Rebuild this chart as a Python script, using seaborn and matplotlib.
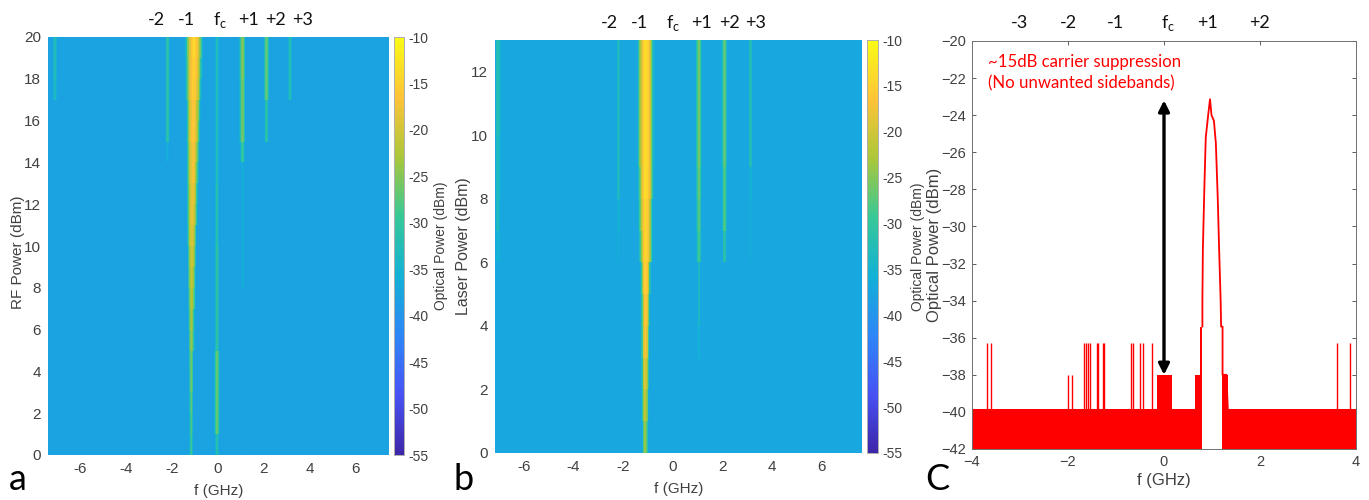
import matplotlib.pyplot as plt
import numpy as np
import pandas as pd
import seaborn as sns
from matplotlib.colors import LinearSegmentedColormap

W, H = 1369, 500

# panel a, rows are RF power 0-1 ... 19-20 dBm
a_rows = list(range(20))
a_freq_start, a_freq_stop = -7.39, 7.43
a_bg = -37.8
a_main_center = [-1.17, -1.17, -1.17, -1.17, -1.17, -1.16, -1.16, -1.15, -1.15, -1.14,
                 -1.14, -1.13, -1.12, -1.11, -1.10, -1.09, -1.08, -1.07, -1.06, -1.05]
a_main_peak = [-29, -28, -27, -26, -26, -24, -23, -22, -21, -20,
               -19, -18, -18, -17, -17, -16, -16, -15, -15, -14.5]
a_main_spread = [0.40, 0.42, 0.44, 0.46, 0.48, 0.55, 0.60, 0.65, 0.70, 0.75,
                 0.80, 0.85, 0.90, 0.95, 1.00, 1.05, 1.10, 1.20, 1.25, 1.30]
a_line_freq = [-0.06, 1.045, 2.09, 3.13, -2.19, -7.09]
a_line_peak = [
    [-32, -27, -27, -27, -27, -31, -31, -31, -31, -31, -32, -32, -32, -33, -33, -33, -33, -33, -33, -33],
    [-37, -37, -37, -37, -37, -37, -37, -37, -36, -36, -36, -36, -36, -36, -30, -26, -26, -26, -25, -25],
    [-38, -38, -38, -38, -38, -38, -38, -38, -38, -38, -38, -38, -38, -38, -38, -31, -31, -27, -27, -27],
    [-38, -38, -38, -38, -38, -38, -38, -38, -38, -38, -38, -38, -38, -38, -38, -38, -38, -32, -32, -32],
    [-38, -38, -38, -38, -38, -38, -38, -38, -38, -38, -38, -38, -38, -38, -36, -31, -31, -31, -31, -31],
    [-38, -38, -38, -38, -38, -38, -38, -38, -38, -38, -38, -38, -38, -38, -38, -38, -38, -33, -32, -32],
]

# panel b, rows are laser power 0-1 ... 12-13 dBm
b_rows = list(range(13))
b_freq_start, b_freq_stop = -7.16, 7.64
b_bg = -37.2
b_main_center = [-1.12, -1.12, -1.11, -1.11, -1.10, -1.10, -1.09, -1.09, -1.09, -1.09, -1.09, -1.09, -1.09]
b_main_peak = [-24, -21, -19, -17, -16, -15, -14.5, -14.5, -13.5, -13.5, -13.5, -13.5, -13.5]
b_main_spread = [0.55, 0.58, 0.60, 0.62, 0.65, 0.70, 0.95, 1.00, 1.05, 1.10, 1.10, 1.10, 1.10]
b_line_freq = [1.05, 2.09, 3.14, -2.2, -7.08, -7.0]
b_line_peak = [
    [-38, -38, -38, -36, -34, -34, -29, -28, -27, -26, -26, -26, -26],
    [-38, -38, -38, -38, -38, -38, -31, -28, -28, -27, -27, -27, -27],
    [-38, -38, -38, -38, -38, -38, -36, -36, -35, -32, -32, -32, -32],
    [-38, -38, -38, -38, -38, -38, -36, -35, -33, -33, -33, -33, -33],
    [-38, -38, -38, -38, -38, -38, -35, -33, -33, -33, -32, -32, -32],
    [-38, -38, -38, -38, -38, -38, -36, -36, -35, -35, -34, -34, -34],
]

# falloff below the stripe peak, dB per 0.025 GHz cell away from the centre
main_falloff = [0, 0.5, 1, 2, 3, 5, 7, 9.5, 12, 15, 18, 20.5, 23, 25, 27]
line_falloff = [0, 1, 3, 6, 9, 12, 15, 18]

cbar_ticks = [-10, -15, -20, -25, -30, -35, -40, -45, -50, -55]

# panel c
c_floor_freq = [-4, -0.14, -0.14, 0.16, 0.16, 0.65, 0.65, 0.74, 0.74, 0.80]
c_floor_level = [-39.85, -39.85, -38, -38, -39.85, -39.85, -38, -38, -35.4, -35.4]
c_right_freq = [1.215, 1.30, 1.33, 1.33, 4]
c_right_level = [-38, -38, -38, -39.85, -39.85]
c_peak_freq = [0.80, 0.80, 0.81, 0.84, 0.87, 0.92, 0.958, 0.99, 1.04, 1.08, 1.12,
               1.146, 1.18, 1.19, 1.22, 1.22, 1.30, 1.33]
c_peak_level = [-35.4, -34, -31.2, -28, -25.2, -24, -23.14, -24, -24.3, -25.5, -28.5,
                -31, -34, -35.4, -35.4, -38, -38, -39.85]
c_spike_freq = [-3.69, -3.60, -1.99, -1.92, -1.67, -1.63, -1.58, -1.54, -1.40, -1.375, -1.28, -1.24,
                -0.69, -0.64, -0.50, -0.44, -0.26, 3.61, 3.87]
c_spike_top = [-36.3, -36.3, -38, -38, -36.3, -36.3, -36.3, -36.3, -36.3, -36.3, -36.3, -36.3,
               -36.3, -36.3, -36.3, -36.3, -36.3, -36.3, -36.3]

# sideband labels above the panels: text, pixel x
a_top = [("-2", 156), ("-1", 186), (r"f$_{\mathrm{c}}$", 220), ("+1", 248), ("+2", 276), ("+3", 303)]
b_top = [("-2", 609), ("-1", 639), (r"f$_{\mathrm{c}}$", 673), ("+1", 702), ("+2", 729), ("+3", 756)]
c_top = [("-3", 1020), ("-2", 1068), ("-1", 1115), (r"f$_{\mathrm{c}}$", 1168), ("+1", 1208), ("+2", 1260)]

parula = LinearSegmentedColormap.from_list(
    "parula",
    ["#3e26a8", "#4752f4", "#2d87f7", "#12b1d6", "#37c897", "#abc739", "#fec338", "#f9fb14"],
)

sns.set_theme(style="white")
plt.rcParams["font.family"] = ["Liberation Sans", "DejaVu Sans"]
plt.rcParams["mathtext.fontset"] = "custom"
plt.rcParams["mathtext.rm"] = "Lato"
GREY = "#404040"
CELL = 0.025


def px_axes(fig, left, top, right, bottom):
    return fig.add_axes([left / W, 1 - bottom / H, (right - left) / W, (bottom - top) / H])


def build_matrix(freq_start, freq_stop, rows, bg, main_center, main_peak, main_spread, line_freq, line_peak):
    freqs = np.arange(freq_start, freq_stop, CELL)
    matrix = np.full((len(rows), len(freqs)), float(bg))
    for r in rows:
        for j, f in enumerate(freqs):
            k = int(abs(f - main_center[r]) / CELL / main_spread[r])
            if k < len(main_falloff):
                matrix[r, j] = max(matrix[r, j], main_peak[r] - main_falloff[k])
        for lf, peaks in zip(line_freq, line_peak):
            for j, f in enumerate(freqs):
                k = int(abs(f - lf) / CELL)
                if k < len(line_falloff):
                    matrix[r, j] = max(matrix[r, j], peaks[r] - line_falloff[k])
    return pd.DataFrame(matrix, index=rows, columns=freqs)


def draw_map(ax, cax, data, freq_start, xticks, yticks, ylabel, ylabel_size, cbar_pad):
    sns.heatmap(data, ax=ax, cbar_ax=cax, cmap=parula, vmin=-55, vmax=-10,
                xticklabels=False, yticklabels=False, linewidths=0, rasterized=True)
    ax.invert_yaxis()
    ax.set_xticks([(f - freq_start) / CELL for f in xticks], labels=[str(f) for f in xticks], rotation=0)
    ax.set_yticks(yticks, labels=[str(y) for y in yticks], rotation=0)
    ax.tick_params(length=0, labelsize=11, labelcolor=GREY, pad=5)
    ax.set_xlabel("f (GHz)", fontsize=11, color=GREY, labelpad=6)
    ax.set_ylabel(ylabel, fontsize=ylabel_size, color=GREY, labelpad=0)
    cax.set_yticks(cbar_ticks, labels=[str(t) for t in cbar_ticks])
    cax.tick_params(direction="in", length=3, width=0.5, color=GREY, labelsize=10, labelcolor=GREY, pad=3)
    cax.set_ylabel("Optical Power (dBm)", fontsize=10, color=GREY, labelpad=cbar_pad)
    for s in cax.spines.values():
        s.set_visible(True)
        s.set_color("#b0b0b0")
        s.set_linewidth(0.6)


fig = plt.figure(figsize=(W / 100, H / 100), dpi=100)

ax_a = px_axes(fig, 48, 37, 389, 455)
cax_a = px_axes(fig, 394, 37, 404, 455)
a_data = build_matrix(a_freq_start, a_freq_stop, a_rows, a_bg, a_main_center, a_main_peak, a_main_spread,
                      a_line_freq, a_line_peak)
draw_map(ax_a, cax_a, a_data, a_freq_start, [-6, -4, -2, 0, 2, 4, 6], list(range(0, 21, 2)),
         "RF Power (dBm)", 11, 4)
ax_a.yaxis.set_label_coords(-0.066, 0.486)

ax_b = px_axes(fig, 495, 40, 862, 453)
cax_b = px_axes(fig, 867, 40, 878, 453)
b_data = build_matrix(b_freq_start, b_freq_stop, b_rows, b_bg, b_main_center, b_main_peak, b_main_spread,
                      b_line_freq, b_line_peak)
draw_map(ax_b, cax_b, b_data, b_freq_start, [-6, -4, -2, 0, 2, 4, 6], list(range(0, 13, 2)),
         "Laser Power (dBm)", 11.5, 6)

ax_c = px_axes(fig, 972, 41, 1356, 449)
ax_c.fill_between(c_floor_freq, -42, c_floor_level, color="red", lw=0)
ax_c.fill_between(c_right_freq, -42, c_right_level, color="red", lw=0)
sns.lineplot(x=c_peak_freq, y=c_peak_level, ax=ax_c, color="red", lw=1.3, sort=False, estimator=None)
ax_c.vlines(c_spike_freq, -40, c_spike_top, color="red", lw=1)
ax_c.annotate("", xy=(0, -23.2), xytext=(0, -38), arrowprops=dict(arrowstyle="<|-|>", color="black", lw=2.4,
                                                                  mutation_scale=16, shrinkA=0, shrinkB=0))
ax_c.set_xlim(-4, 4)
ax_c.set_ylim(-42, -20)
ax_c.set_xticks([-4, -2, 0, 2, 4])
ax_c.set_yticks(list(range(-42, -19, 2)))
ax_c.tick_params(direction="in", length=3, width=0.6, color=GREY, top=True, right=True, bottom=True, left=True,
                 labelsize=10.5, labelcolor=GREY, pad=4)
for s in ax_c.spines.values():
    s.set_visible(True)
    s.set_color("#707070")
    s.set_linewidth(0.7)
ax_c.set_xlabel("f (GHz)", fontsize=12, color=GREY, labelpad=3)
ax_c.set_ylabel("Optical Power (dBm)", fontsize=12, color=GREY, labelpad=0)
ax_c.text(-3.67, -21.7, "~15dB carrier suppression\n(No unwanted sidebands)", color="red", fontsize=12.1,
          family="Lato", va="center", linespacing=1.4)

for labels, y in [(a_top, 20), (b_top, 23), (c_top, 23)]:
    for text, x in labels:
        fig.text(x / W, 1 - y / H, text, fontsize=13, family="Lato", color="#111111", ha="center", va="center")

for text, x in [("a", 18), ("b", 464), ("C", 937)]:
    fig.text(x / W, 1 - 479 / H, text, fontsize=26, family="Lato", color="black", ha="center", va="center")

fig.savefig("out.png", dpi=100)
